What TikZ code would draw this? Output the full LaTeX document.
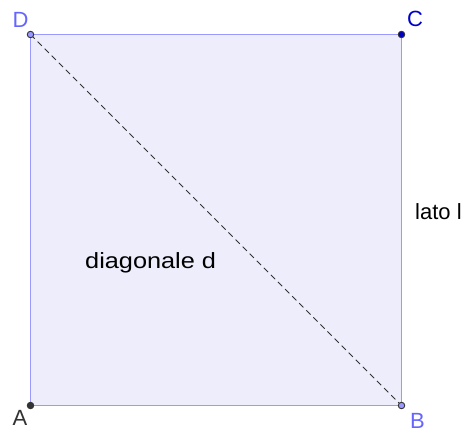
\documentclass[tikz,border=0pt]{standalone}
\usepackage{fontspec}
\setmainfont{Liberation Sans}
\newfontfamily\widefont[FakeStretch=1.15]{Liberation Sans}
\definecolor{edgeC}{HTML}{9999FF}
\definecolor{fillC}{HTML}{EDEDFC}
\definecolor{ptDark}{HTML}{333333}
\definecolor{ptBlue}{HTML}{0000CC}
\definecolor{lblLight}{HTML}{6666FF}
\definecolor{lblBlue}{HTML}{0000CC}
\definecolor{lblDark}{HTML}{333333}
\tikzset{
  pt/.style={circle, draw=ptDark, line width=0.9pt, inner sep=0pt, minimum size=6.5pt},
  lbl/.style={inner sep=0pt, font=\fontsize{22}{22}\selectfont},
  txt/.style={inner sep=0pt, anchor=base west, font=\fontsize{22}{22}\selectfont, text=black}
}
\begin{document}
\begin{tikzpicture}[x=1pt, y=-1pt]
\useasboundingbox (0,0) rectangle (470,432);
\fill[white] (0,0) rectangle (470,432);
\coordinate (A) at (30.5,405.5);
\coordinate (B) at (401.5,405.5);
\coordinate (C) at (401.5,34.5);
\coordinate (D) at (30.5,34.5);
\filldraw[fill=fillC, draw=edgeC, line width=1.2pt] (A) -- (B) -- (C) -- (D) -- cycle;
\draw[ptDark, line width=0.8pt, dash pattern=on 6pt off 4pt] (D) -- (B);
\node[pt, fill=ptDark] (pA) at (A) {};
\node[pt, fill=edgeC] (pB) at (B) {};
\node[pt, fill=ptBlue] (pC) at (C) {};
\node[pt, fill=edgeC] (pD) at (D) {};
\node[lbl, text=lblLight] (lD) at (20.5,19.5) {D};
\node[lbl, text=lblBlue] (lC) at (415,18.5) {C};
\node[lbl, text=lblDark] (lA) at (20,418) {A};
\node[lbl, text=lblLight] (lB) at (417.5,421) {B};
\node[txt] (lato) at (415,219) {lato l};
\node[txt, font=\widefont\fontsize{22}{22}\selectfont] (diag) at (85,268) {diagonale d};
\end{tikzpicture}
\end{document}
